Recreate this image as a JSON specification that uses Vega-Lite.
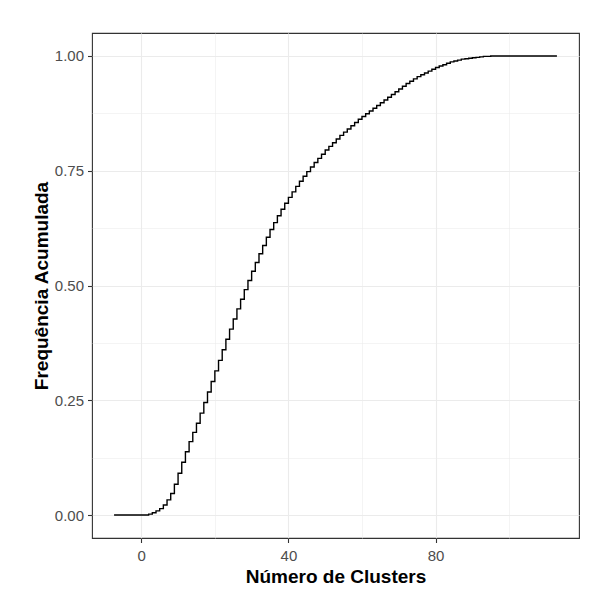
{
  "$schema": "https://vega.github.io/schema/vega-lite/v6.json",
  "autosize": {"type": "none"},
  "width": 487,
  "height": 505,
  "padding": {"left": 92, "top": 33, "right": 13, "bottom": 58},
  "background": "white",
  "config": {
    "view": {"stroke": "#333333", "strokeWidth": 1.1},
    "font": "Liberation Sans",
    "axis": {
      "domain": false,
      "gridColor": "#EBEBEB",
      "tickColor": "#333333",
      "tickSize": 4.5,
      "tickWidth": 1.1,
      "labelColor": "#4D4D4D",
      "labelFont": "Liberation Sans",
      "labelFontSize": 15,
      "titleFont": "Liberation Sans",
      "titleFontSize": 19,
      "titleFontWeight": "bold",
      "titleColor": "black"
    }
  },
  "data": {
    "values": [
      {"x": -7.4, "F": 0},
      {"x": 2, "F": 0.002},
      {"x": 3, "F": 0.005},
      {"x": 4, "F": 0.009},
      {"x": 5, "F": 0.014},
      {"x": 6, "F": 0.022},
      {"x": 7, "F": 0.033},
      {"x": 8, "F": 0.047},
      {"x": 9, "F": 0.067},
      {"x": 10, "F": 0.091},
      {"x": 11, "F": 0.115},
      {"x": 12, "F": 0.138},
      {"x": 13, "F": 0.16},
      {"x": 14, "F": 0.18},
      {"x": 15, "F": 0.2},
      {"x": 16, "F": 0.222},
      {"x": 17, "F": 0.245},
      {"x": 18, "F": 0.268},
      {"x": 19, "F": 0.291},
      {"x": 20, "F": 0.314},
      {"x": 21, "F": 0.337},
      {"x": 22, "F": 0.36},
      {"x": 23, "F": 0.383},
      {"x": 24, "F": 0.405},
      {"x": 25, "F": 0.427},
      {"x": 26, "F": 0.449},
      {"x": 27, "F": 0.47},
      {"x": 28, "F": 0.491},
      {"x": 29, "F": 0.511},
      {"x": 30, "F": 0.531},
      {"x": 31, "F": 0.55},
      {"x": 32, "F": 0.569},
      {"x": 33, "F": 0.587},
      {"x": 34, "F": 0.605},
      {"x": 35, "F": 0.622},
      {"x": 36, "F": 0.637},
      {"x": 37, "F": 0.652},
      {"x": 38, "F": 0.666},
      {"x": 39, "F": 0.679},
      {"x": 40, "F": 0.692},
      {"x": 41, "F": 0.704},
      {"x": 42, "F": 0.716},
      {"x": 43, "F": 0.727},
      {"x": 44, "F": 0.738},
      {"x": 45, "F": 0.748},
      {"x": 46, "F": 0.758},
      {"x": 47, "F": 0.768},
      {"x": 48, "F": 0.777},
      {"x": 49, "F": 0.786},
      {"x": 50, "F": 0.795},
      {"x": 51, "F": 0.803},
      {"x": 52, "F": 0.811},
      {"x": 53, "F": 0.819},
      {"x": 54, "F": 0.827},
      {"x": 55, "F": 0.834},
      {"x": 56, "F": 0.841},
      {"x": 57, "F": 0.848},
      {"x": 58, "F": 0.855},
      {"x": 59, "F": 0.862},
      {"x": 60, "F": 0.868},
      {"x": 61, "F": 0.874},
      {"x": 62, "F": 0.88},
      {"x": 63, "F": 0.886},
      {"x": 64, "F": 0.892},
      {"x": 65, "F": 0.898},
      {"x": 66, "F": 0.904},
      {"x": 67, "F": 0.91},
      {"x": 68, "F": 0.916},
      {"x": 69, "F": 0.922},
      {"x": 70, "F": 0.928},
      {"x": 71, "F": 0.934},
      {"x": 72, "F": 0.94},
      {"x": 73, "F": 0.945},
      {"x": 74, "F": 0.95},
      {"x": 75, "F": 0.955},
      {"x": 76, "F": 0.959},
      {"x": 77, "F": 0.963},
      {"x": 78, "F": 0.967},
      {"x": 79, "F": 0.971},
      {"x": 80, "F": 0.975},
      {"x": 81, "F": 0.978},
      {"x": 82, "F": 0.981},
      {"x": 83, "F": 0.984},
      {"x": 84, "F": 0.987},
      {"x": 85, "F": 0.989},
      {"x": 86, "F": 0.991},
      {"x": 87, "F": 0.993},
      {"x": 88, "F": 0.994},
      {"x": 89, "F": 0.995},
      {"x": 90, "F": 0.996},
      {"x": 91, "F": 0.997},
      {"x": 92, "F": 0.998},
      {"x": 93, "F": 0.999},
      {"x": 95, "F": 1},
      {"x": 113, "F": 1}
    ]
  },
  "mark": {"type": "line", "interpolate": "step-after", "color": "black", "strokeWidth": 1.4},
  "encoding": {
    "x": {
      "field": "x",
      "type": "quantitative",
      "scale": {"domain": [-13.4, 119], "nice": false, "zero": false},
      "axis": {
        "title": "Número de Clusters",
        "values": [0, 20, 40, 60, 80, 100],
        "labelExpr": "datum.value % 40 === 0 ? datum.label : ''",
        "tickOpacity": {"condition": {"test": "datum.value % 40 === 0", "value": 1}, "value": 0},
        "gridWidth": {"condition": {"test": "datum.value % 40 === 0", "value": 1.1}, "value": 0.55},
        "labelPadding": 6,
        "titlePadding": 4
      }
    },
    "y": {
      "field": "F",
      "type": "quantitative",
      "scale": {"domain": [-0.05, 1.05], "nice": false, "zero": false},
      "axis": {
        "title": "Frequência Acumulada",
        "values": [0, 0.125, 0.25, 0.375, 0.5, 0.625, 0.75, 0.875, 1],
        "format": ".2f",
        "labelExpr": "round(datum.value * 8) % 2 === 0 ? datum.label : ''",
        "tickOpacity": {"condition": {"test": "round(datum.value * 8) % 2 === 0", "value": 1}, "value": 0},
        "gridWidth": {"condition": {"test": "round(datum.value * 8) % 2 === 0", "value": 1.1}, "value": 0.55},
        "labelPadding": 4,
        "titlePadding": 3
      }
    }
  }
}
